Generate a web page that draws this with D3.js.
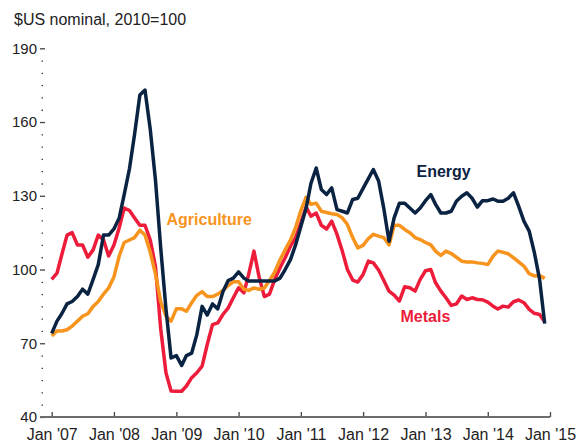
<!DOCTYPE html>
<html>
<head>
<meta charset="utf-8">
<script src="https://cdn.jsdelivr.net/npm/d3@7"></script>
<style>
  body { margin: 0; background: #fff; }
  svg { font-family: "Liberation Sans", Arial, sans-serif; }
  .tick text { fill: #222; }
</style>
</head>
<body>
<svg id="chart" width="577" height="442"></svg>
<script>
// monthly index values, Jan 2007 - Dec 2014
const startMonth = new Date(2007, 0, 1);

const energy = [74, 79, 82, 86, 87, 89, 92, 90, 96, 102, 114, 114,
  116.5, 121, 130.5, 141, 155, 171, 173, 157, 136, 109, 84, 64,
  65, 61, 65, 66, 73.5, 85, 81.5, 86, 84, 91, 95.5, 96.5,
  99, 96.5, 95.3, 95.3, 95.3, 95.3, 95.3, 95.3, 96.5, 100, 104, 110,
  117.5, 125, 135, 141.3, 132.6, 130.5, 133.2, 124.4, 123.7, 123, 128.5, 129,
  133, 137, 140.7, 136, 125, 111.5, 121, 127, 127, 125, 123, 125,
  128, 130.5, 126.5, 123, 123, 123.7, 127.8, 129.8, 131.2, 129, 125.4, 128,
  128, 128.7, 127.8, 127.8, 129, 131.2, 125.8, 119.7, 115.6, 107, 96, 78];

const agriculture = [73, 75, 75, 75.5, 77, 79, 81, 82, 85, 87, 90, 92.5,
  97, 105.5, 111, 112, 113, 116, 114, 107, 98, 87, 81, 79,
  84, 84, 83, 86.5, 89.5, 91, 89, 89, 90, 91.5, 93.5, 95,
  95, 92, 91.5, 92.5, 92, 92.5, 95.5, 99, 104, 108, 112, 117,
  124, 129.4, 126.5, 127, 123.7, 123.2, 122.7, 122.4, 121, 118.3, 113, 108.8,
  109.8, 112.6, 114.3, 113.6, 113, 110, 118, 118, 116.3, 115, 113, 112.2,
  111, 110, 107.5, 105.7, 107.5, 106.5, 105, 103.4, 103.1, 103.1, 102.7, 102.5,
  102, 105.4, 107.5, 107, 106.4, 104.8, 103.1, 101.4, 98.3, 97.4, 97.6, 96.4];

const metals = [96, 98.5, 106, 114, 115, 110, 110, 105, 108, 114, 112, 105.5,
  110, 117, 125, 124, 121, 118, 118, 112, 101, 76, 58, 50.6,
  50.5, 50.5, 52.6, 56, 58, 60.7, 69.5, 77.6, 78.3, 81.7, 84.4, 88.5,
  92.6, 90.5, 98, 107.5, 97, 89, 90, 96, 100.7, 104.8, 109.5, 113,
  119, 125.4, 121.7, 123, 118, 116.5, 119.7, 114.3, 107.5, 100, 95.7, 94.9,
  98, 103.4, 102.7, 99.8, 95.6, 91.2, 89.6, 87.2, 93, 92.6, 91.2, 96,
  99.5, 100, 94.6, 91.2, 88.5, 85.4, 86, 89.2, 87.8, 88.5, 87.8, 87.7,
  86.7, 85.1, 83.9, 85.1, 84.7, 86.9, 87.6, 86.5, 83.8, 82.2, 81.7, 78.7];

const seriesNames = ["Energy", "Agriculture", "Metals"];
const seriesColors = ["#0b2343", "#f7941d", "#ec1c3a"];

const yMajorTicks = [40, 70, 100, 130, 160, 190];
const yMinorTicks = d3.range(45, 190, 5).filter(v => v % 30 !== 10);
const xTickYears = d3.range(2007, 2016);

// SETUP
const svg = d3.select("#chart");
const axisY0 = 417;

const x = d3.scaleTime()
    .domain([startMonth, new Date(2015, 0, 1)])
    .range([51.7, 550]);

const y = d3.scaleLinear()
    .domain([40, 190])
    .range([axisY0, 48.3]);

const monthDate = i => d3.timeMonth.offset(startMonth, i);

// title
svg.append("text")
    .attr("x", 14)
    .attr("y", 25)
    .attr("font-size", 16)
    .attr("fill", "#222")
    .text("$US nominal, 2010=100");

// Y AXIS
const gy = svg.append("g")
    .attr("transform", "translate(45,0)")
    .call(d3.axisLeft(y).tickValues(yMajorTicks).tickSize(5).tickPadding(3));
gy.select(".domain").remove();
gy.selectAll("line").attr("stroke", "#444").attr("stroke-width", 1.3);
gy.selectAll("text").attr("font-size", 15).attr("font-family", null);

const gyMinor = svg.append("g")
    .attr("transform", "translate(43,0)")
    .call(d3.axisLeft(y).tickValues(yMinorTicks).tickSize(1.5).tickFormat(""));
gyMinor.select(".domain").remove();
gyMinor.selectAll("line").attr("stroke", "#444").attr("stroke-width", 1.3);

// X AXIS
const gx = svg.append("g")
    .attr("transform", `translate(0,${axisY0})`)
    .call(d3.axisBottom(x)
        .tickValues(xTickYears.map(yr => new Date(yr, 0, 1)))
        .tickSize(-5)
        .tickPadding(12)
        .tickFormat(d => "Jan '" + d3.timeFormat("%y")(d)));
gx.select(".domain").remove();
gx.selectAll("line").attr("stroke", "#444").attr("stroke-width", 1.3);
gx.selectAll("text").attr("font-size", 16).attr("font-family", null);

svg.append("line")
    .attr("x1", 40).attr("x2", 550)
    .attr("y1", axisY0).attr("y2", axisY0)
    .attr("stroke", "#6d6d6d")
    .attr("stroke-width", 2);

// LINES
const line = d3.line()
    .x((d, i) => x(monthDate(i)))
    .y(d => y(d));

const allSeries = [metals, agriculture, energy];
const drawColors = [seriesColors[2], seriesColors[1], seriesColors[0]];

allSeries.forEach((s, k) => {
    svg.append("path")
        .datum(s)
        .attr("d", line)
        .attr("fill", "none")
        .attr("stroke", drawColors[k])
        .attr("stroke-width", 3.5)
        .attr("stroke-linejoin", "round");
});

// series labels
const labelPos = [[416.5, 176.5], [166.5, 225], [400.5, 322]];
seriesNames.forEach((name, k) => {
    svg.append("text")
        .attr("x", labelPos[k][0])
        .attr("y", labelPos[k][1])
        .attr("font-size", 16)
        .attr("font-weight", "bold")
        .attr("fill", seriesColors[k])
        .text(name);
});
</script>
</body>
</html>
